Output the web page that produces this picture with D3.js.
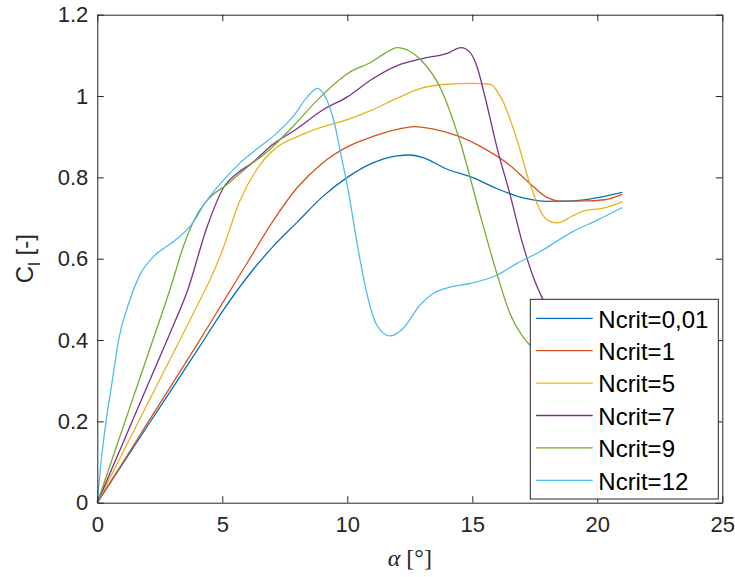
<!DOCTYPE html>
<html>
<head>
<meta charset="utf-8">
<script src="https://cdn.jsdelivr.net/npm/d3@7"></script>
<style>
  body { margin: 0; background: #fff; }
  svg { display: block; }
</style>
</head>
<body>
<div id="chart"></div>
<script>
// angle of attack (deg) and lift coefficient for each Ncrit run
const alphaN001 = [0, 1, 2, 3, 4, 5, 6, 7, 8, 9, 10, 11, 12, 12.5, 13, 14, 15, 16, 17, 18, 19, 20, 21]
const clN001 = [0, 0.094, 0.188, 0.281, 0.375, 0.47, 0.555, 0.628, 0.69, 0.752, 0.80, 0.835, 0.853, 0.855, 0.849, 0.82, 0.80, 0.772, 0.75, 0.741, 0.742, 0.75, 0.763]

const alphaN1 = [0, 1, 2, 3, 4, 5, 6, 7, 8, 9, 10, 11, 12, 12.7, 13.5, 14.5, 15.5, 16.5, 17.3, 18, 18.6, 19.5, 20.3, 21]
const clN1 = [0, 0.097, 0.195, 0.292, 0.39, 0.49, 0.59, 0.69, 0.775, 0.835, 0.875, 0.90, 0.918, 0.925, 0.918, 0.90, 0.87, 0.83, 0.785, 0.75, 0.741, 0.742, 0.745, 0.758]

const alphaN5 = [0, 1, 2, 3, 4, 4.5, 5, 5.7, 6.5, 7.2, 8, 9, 10, 11, 12, 13, 14, 15, 15.7, 16.2, 16.8, 17.3, 18, 18.4, 19, 19.5, 20.2, 21]
const clN5 = [0, 0.121, 0.242, 0.363, 0.485, 0.547, 0.62, 0.742, 0.83, 0.875, 0.90, 0.924, 0.942, 0.966, 0.995, 1.02, 1.029, 1.031, 1.029, 0.99, 0.89, 0.785, 0.695, 0.688, 0.705, 0.718, 0.724, 0.740]

const alphaN7 = [0, 1, 2, 3, 3.6, 4.4, 5.1, 5.6, 6.2, 7, 8, 9, 10, 11, 12, 13, 14, 14.55, 14.9, 15.2, 15.5, 16, 16.5, 17, 17.5, 17.8, 18.5, 19.5, 21]
const clN7 = [0, 0.143, 0.287, 0.43, 0.52, 0.68, 0.78, 0.81, 0.836, 0.88, 0.92, 0.965, 0.998, 1.042, 1.075, 1.092, 1.105, 1.119, 1.108, 1.07, 1.0, 0.87, 0.76, 0.64, 0.545, 0.503, 0.43, 0.39, 0.37]

const alphaN9 = [0, 1, 2, 2.9, 3.5, 4, 4.5, 5.2, 6, 6.8, 7.9, 8.8, 10, 11, 11.5, 12, 12.5, 13, 13.7, 14.5, 15.3, 16, 16.5, 17, 17.3, 18, 21]
const clN9 = [0, 0.18, 0.36, 0.523, 0.64, 0.71, 0.75, 0.783, 0.825, 0.863, 0.93, 0.99, 1.055, 1.085, 1.105, 1.119, 1.11, 1.085, 1.023, 0.89, 0.711, 0.56, 0.466, 0.41, 0.388, 0.37, 0.34]

const alphaN12 = [0, 0.15, 0.35, 0.6, 0.85, 1.3, 1.72, 2.25, 3.05, 3.72, 4.39, 5, 5.7, 6.5, 7.2, 7.9, 8.4, 8.8, 9.0, 9.25, 9.5, 9.7, 10.0, 10.44, 10.78, 11.18, 11.71, 12.24, 12.91, 13.44, 14.1, 14.9, 16, 16.8, 17.7, 19, 20, 21]
const clN12 = [0, 0.1, 0.2, 0.3, 0.4, 0.498, 0.562, 0.605, 0.642, 0.68, 0.744, 0.79, 0.835, 0.875, 0.91, 0.955, 0.998, 1.019, 1.01, 0.98, 0.93, 0.869, 0.78, 0.621, 0.515, 0.437, 0.41, 0.429, 0.486, 0.515, 0.53, 0.539, 0.56, 0.589, 0.617, 0.666, 0.695, 0.726]

const seriesNames = ['Ncrit=0,01', 'Ncrit=1', 'Ncrit=5', 'Ncrit=7', 'Ncrit=9', 'Ncrit=12']
const seriesAlpha = [alphaN001, alphaN1, alphaN5, alphaN7, alphaN9, alphaN12]
const seriesCl = [clN001, clN1, clN5, clN7, clN9, clN12]
const colors = ['#0072BD', '#D95319', '#EDB120', '#7E2F8E', '#77AC30', '#4DBEEE']

const xTicks = [0, 5, 10, 15, 20, 25]
const yTicks = [0, 0.2, 0.4, 0.6, 0.8, 1, 1.2]

const width = 735
const height = 577
const axisColor = '#262626'
const tickLen = 6.5

const svg = d3.select('#chart')
  .append('svg')
  .attr('width', width)
  .attr('height', height)

const x = d3.scaleLinear().domain([0, 25]).range([97.3, 722.3])
const y = d3.scaleLinear().domain([0, 1.2]).range([502.7, 14.7])

// lines first, then the box and legend on top
const line = d3.line()
  .x((d) => x(d[0]))
  .y((d) => y(d[1]))
  .curve(d3.curveMonotoneX)

seriesAlpha.forEach((a, i) => {
  const pts = a.map((v, j) => [v, seriesCl[i][j]])
  svg.append('path')
    .datum(pts)
    .attr('fill', 'none')
    .attr('stroke', colors[i])
    .attr('stroke-width', 1.3)
    .attr('d', line)
})

// axes: bottom/left with labels, top/right just ticks (box on)
const fmt = (d) => String(d)

const gx = svg.append('g')
  .attr('transform', 'translate(0,' + y(0) + ')')
  .call(d3.axisBottom(x).tickValues(xTicks).tickFormat(fmt).tickSizeInner(-tickLen).tickSizeOuter(0).tickPadding(14))
const gy = svg.append('g')
  .attr('transform', 'translate(' + x(0) + ',0)')
  .call(d3.axisLeft(y).tickValues(yTicks).tickFormat(fmt).tickSizeInner(-tickLen).tickSizeOuter(0).tickPadding(9))
const gt = svg.append('g')
  .attr('transform', 'translate(0,' + y(1.2) + ')')
  .call(d3.axisTop(x).tickValues(xTicks).tickFormat('').tickSizeInner(-tickLen).tickSizeOuter(0))
const gr = svg.append('g')
  .attr('transform', 'translate(' + x(25) + ',0)')
  .call(d3.axisRight(y).tickValues(yTicks).tickFormat('').tickSizeInner(-tickLen).tickSizeOuter(0))

;[gx, gy, gt, gr].forEach((g) => {
  g.select('.domain').attr('stroke', axisColor).attr('stroke-width', 1)
  g.selectAll('.tick line').attr('stroke', axisColor).attr('stroke-width', 1)
  g.selectAll('.tick text')
    .attr('fill', axisColor)
    .style('font-family', '"Liberation Sans", Arial, sans-serif')
    .style('font-size', '22px')
})
gx.selectAll('.tick text').attr('dy', '0.71em')

// axis titles
svg.append('text')
  .attr('x', x(12.5))
  .attr('y', 566)
  .attr('text-anchor', 'middle')
  .attr('fill', axisColor)
  .style('font-family', '"Liberation Serif", "DejaVu Serif", serif')
  .style('font-size', '24px')
  .call((t) => {
    t.append('tspan').style('font-style', 'italic').text('α')
    t.append('tspan').text(' [°]')
  })

svg.append('text')
  .attr('transform', 'translate(33,' + y(0.6) + ') rotate(-90)')
  .attr('text-anchor', 'middle')
  .attr('fill', axisColor)
  .style('font-family', '"Liberation Sans", Arial, sans-serif')
  .style('font-size', '24px')
  .call((t) => {
    t.append('tspan').text('C')
    t.append('tspan').attr('dy', 7).style('font-size', '17px').text('l')
    t.append('tspan').attr('dy', -7).text(' [-]')
  })

// legend
const legend = svg.append('g')
legend.append('rect')
  .attr('x', 530.3)
  .attr('y', 299.3)
  .attr('width', 188)
  .attr('height', 199.7)
  .attr('fill', '#fff')
  .attr('stroke', axisColor)
  .attr('stroke-width', 1)

seriesNames.forEach((name, i) => {
  const ly = 318.3 + i * 32.4
  legend.append('line')
    .attr('x1', 536)
    .attr('x2', 592.7)
    .attr('y1', ly)
    .attr('y2', ly)
    .attr('stroke', colors[i])
    .attr('stroke-width', 1.3)
  legend.append('text')
    .attr('x', 598.3)
    .attr('y', ly + 9.2)
    .attr('fill', '#000')
    .style('font-family', '"Liberation Sans", Arial, sans-serif')
    .style('font-size', '24px')
    .text(name)
})
</script>
</body>
</html>
